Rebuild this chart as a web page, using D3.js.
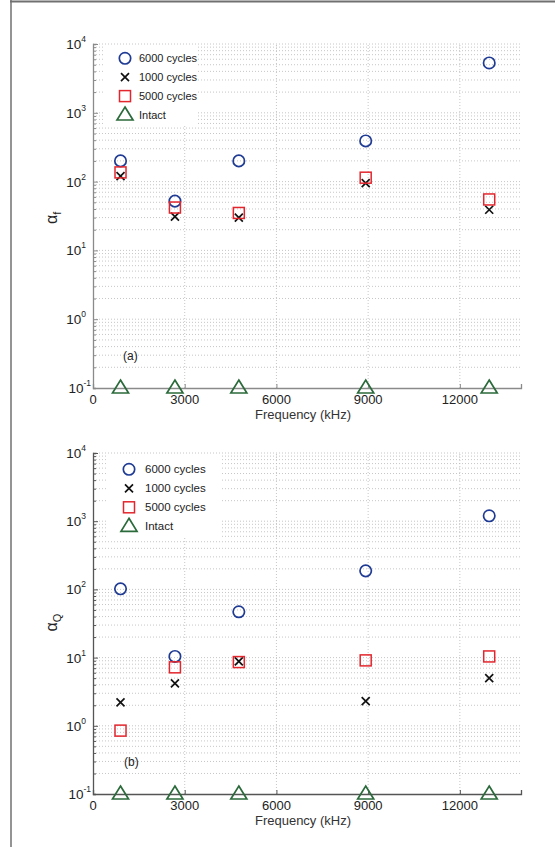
<!DOCTYPE html>
<html>
<head>
<meta charset="utf-8">
<script src="https://cdn.jsdelivr.net/npm/d3@7"></script>
<style>
  body { margin: 0; background: #fff; }
  svg { display: block; font-family: "Liberation Sans", Arial, sans-serif; }
</style>
</head>
<body>
<script>
// values
const freq = [900, 2680, 4770, 8920, 12960];
const seriesNames = ["6000 cycles", "1000 cycles", "5000 cycles", "Intact"];

const alphaF6000 = [200, 52, 200, 390, 5300];
const alphaF1000 = [120, 31, 30, 95, 39];
const alphaF5000 = [136, 42, 35, 114, 55];
const alphaFIntact = [0.1, 0.1, 0.1, 0.1, 0.1];

const alphaQ6000 = [102, 10.4, 47, 187, 1200];
const alphaQ1000 = [2.2, 4.2, 8.8, 2.3, 5.0];
const alphaQ5000 = [0.85, 7.2, 8.6, 9.1, 10.4];
const alphaQIntact = [0.1, 0.1, 0.1, 0.1, 0.1];

const xTicks = [0, 3000, 6000, 9000, 12000];
const yTicks = [0.1, 1, 10, 100, 1000, 10000];

const width = 555, height = 847;
const colors = ["#1f3b94", "#111111", "#e3262d", "#2b6a3b"];

const svg = d3.select('body').append('svg')
    .attr('width', width)
    .attr('height', height);

// page frame (top and left only)
svg.append('line').attr('x1', 10).attr('x2', width).attr('y1', 1.5).attr('y2', 1.5)
    .attr('stroke', '#707070').attr('stroke-width', 2);
svg.append('line').attr('x1', 11).attr('x2', 11).attr('y1', 0).attr('y2', height)
    .attr('stroke', '#707070').attr('stroke-width', 1.5);

function marker(sel, i) {
    const c = colors[i];
    if (i === 0) {
        sel.append('circle').attr('r', 5.7).attr('fill', 'none')
            .attr('stroke', c).attr('stroke-width', 1.7);
    } else if (i === 1) {
        sel.append('path').attr('d', 'M-4,-4L4,4M-4,4L4,-4')
            .attr('stroke', c).attr('stroke-width', 1.7);
    } else if (i === 2) {
        sel.append('rect').attr('x', -5.5).attr('y', -5.5).attr('width', 11).attr('height', 11)
            .attr('fill', 'none').attr('stroke', c).attr('stroke-width', 1.5);
    } else {
        sel.append('path').attr('d', 'M0,-8L8,5L-8,5Z').attr('fill', 'none')
            .attr('stroke', c).attr('stroke-width', 1.7).attr('stroke-linejoin', 'miter');
    }
}

function drawPanel(opt) {
    const x = d3.scaleLinear().domain([0, 14000]).range([93, 521]);
    const y = d3.scaleLog().domain([0.1, 10000]).range([opt.bottom, opt.top]);
    const g = svg.append('g');

    // grid
    const minor = [];
    for (let e = -1; e < 4; e++) for (let k = 1; k < 10; k++) minor.push(k * Math.pow(10, e));
    minor.push(10000);
    g.append('g').selectAll('line').data(minor.filter(v => v > 0.1)).join('line')
        .attr('x1', x(0)).attr('x2', x(14000))
        .attr('y1', d => y(d)).attr('y2', d => y(d))
        .attr('stroke', '#b8b8b8').attr('stroke-width', 0.8).attr('stroke-dasharray', '1,2');
    g.append('g').selectAll('line').data(xTicks.slice(1)).join('line')
        .attr('x1', d => x(d)).attr('x2', d => x(d))
        .attr('y1', y(0.1)).attr('y2', y(10000))
        .attr('stroke', '#b8b8b8').attr('stroke-width', 0.8).attr('stroke-dasharray', '1,2');

    // axes
    const yAxis = d3.axisLeft(y).tickValues(minor).tickSize(-3).tickFormat('');
    const ya = g.append('g').attr('transform', `translate(${x(0)},0)`).call(yAxis);
    ya.selectAll('.tick line').attr('x2', d => yTicks.includes(d) ? 5 : 3);
    const xAxis = d3.axisBottom(x).tickValues(xTicks).tickSize(-4).tickFormat('');
    const xa = g.append('g').attr('transform', `translate(0,${y(0.1)})`).call(xAxis);
    [ya, xa].forEach(a => {
        a.select('.domain').attr('stroke', opt.axisColor).attr('stroke-width', 1.3);
        a.selectAll('.tick line').attr('stroke', opt.axisColor);
    });

    // tick labels
    const yl = g.append('g').selectAll('text').data(yTicks).join('text')
        .attr('y', d => y(d) + 5)
        .attr('text-anchor', 'end').attr('font-size', 13.5).attr('fill', '#222');
    yl.append('tspan').text('10');
    yl.append('tspan').attr('dy', -7).attr('font-size', 8.5).text(d => Math.round(Math.log10(d)));
    yl.attr('x', d => d < 1 ? 91 : 86);

    g.append('g').selectAll('text').data(xTicks).join('text')
        .attr('x', d => x(d)).attr('y', y(0.1) + 16)
        .attr('text-anchor', 'middle').attr('font-size', 13).attr('fill', '#222')
        .text(d => d);

    g.append('text').attr('x', 303).attr('y', y(0.1) + 31)
        .attr('text-anchor', 'middle').attr('font-size', 13).attr('fill', '#333')
        .text('Frequency (kHz)');

    const ylab = g.append('text')
        .attr('transform', `translate(57,${(opt.top + opt.bottom) / 2 + 8}) rotate(-90)`)
        .attr('font-size', 16).attr('fill', '#222');
    ylab.append('tspan').text('α');
    ylab.append('tspan').attr('dy', 4).attr('font-size', 11).text(opt.sub);

    g.append('text').attr('x', opt.tagX).attr('y', opt.tagY)
        .attr('font-size', 12).attr('fill', '#222').text(opt.tag);

    // legend
    g.append('rect').attr('x', opt.leg.x0).attr('y', y(10000) + 1)
        .attr('width', opt.leg.w).attr('height', opt.leg.h).attr('fill', '#fff');
    seriesNames.forEach((name, i) => {
        const row = g.append('g')
            .attr('transform', `translate(${opt.leg.mx},${opt.leg.y0 + i * opt.leg.dy})`);
        marker(row, i);
        row.append('text').attr('x', opt.leg.tx - opt.leg.mx).attr('y', 4)
            .attr('font-size', opt.leg.fs).attr('fill', '#222').text(name);
    });

    // points
    opt.series.forEach((vals, i) => {
        g.append('g').selectAll('g').data(vals).join('g')
            .attr('transform', (d, j) => `translate(${x(freq[j])},${y(d)})`)
            .each(function () { marker(d3.select(this), i); });
    });
}

drawPanel({
    top: 44, bottom: 388, axisColor: '#8a8a8a', sub: 'f', tag: '(a)', tagX: 123, tagY: 360,
    series: [alphaF6000, alphaF1000, alphaF5000, alphaFIntact],
    leg: { x0: 103, w: 94, h: 80, mx: 125, tx: 139, y0: 58.3, dy: 18.9, fs: 11 }
});

drawPanel({
    top: 453, bottom: 794, axisColor: '#555', sub: 'Q', tag: '(b)', tagX: 124, tagY: 766,
    series: [alphaQ6000, alphaQ1000, alphaQ5000, alphaQIntact],
    leg: { x0: 107, w: 113, h: 84, mx: 129, tx: 145, y0: 469.3, dy: 19, fs: 11.5 }
});
</script>
</body>
</html>
